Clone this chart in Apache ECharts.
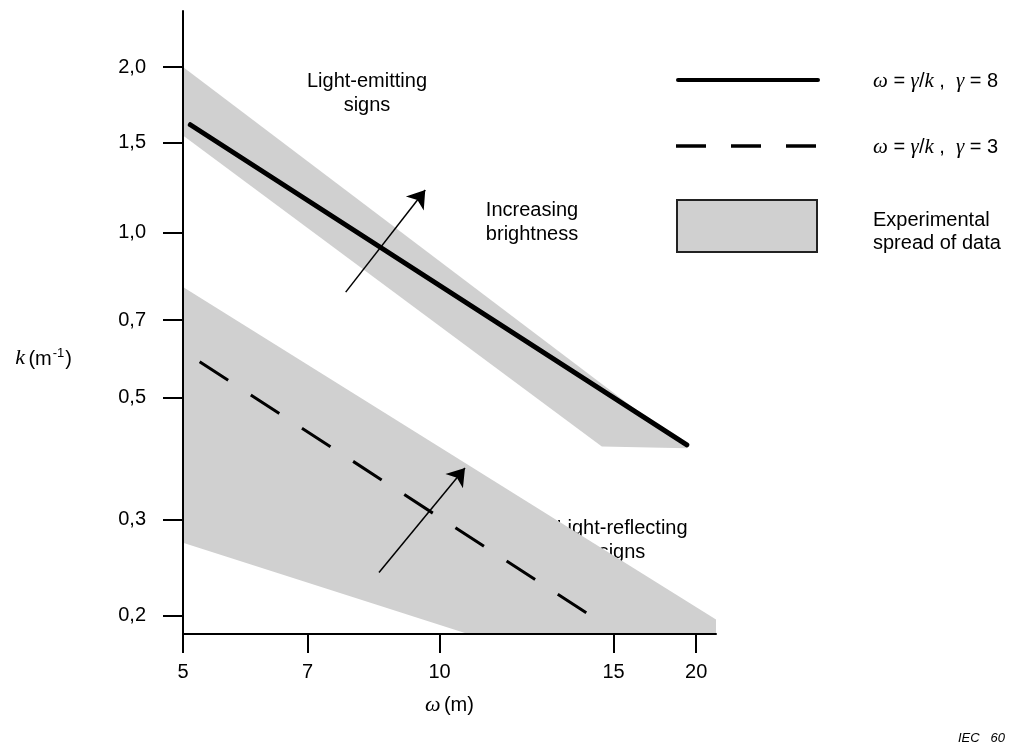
<!DOCTYPE html>
<html><head><meta charset="utf-8">
<script src="https://cdn.jsdelivr.net/npm/echarts@6/dist/echarts.min.js"></script>
<style>html,body{margin:0;padding:0;background:#fff}#c{width:1011px;height:742px}</style>
</head><body><div id="c"></div>
<script>
// ---- data (log-log chart: omega in m, k in m^-1) ----
const xTickLabels = ['5', '7', '10', '15', '20'];
const xTickAt = [5, 7, 10, 16, 20];            // where the reference draws the ticks
const yTickLabels = ['0,2', '0,3', '0,5', '0,7', '1,0', '1,5', '2,0'];
const yTickAt = [0.2, 0.3, 0.5, 0.692, 1.0, 1.456, 2.0];
const xRange = [5, 21.1];
const yRange = [0.1854, 2.53];
const solidLine = [[5.1, 1.57], [19.5, 0.41]];          // omega = gamma/k, gamma = 8
const dashedLine = [[5.23, 0.581], [15.6, 0.193]];      // omega = gamma/k, gamma = 3
const upperBand = [[5, 2.0], [19.5, 0.404], [15.5, 0.407], [5, 1.5]];
const lowerBand = [[5, 0.795], [21.1, 0.197], [21.1, 0.1854], [10.8, 0.1854], [5, 0.272]];
const arrows = [[[7.76, 0.778], [9.62, 1.194]], [[8.49, 0.240], [10.71, 0.372]]];

const L = v => Math.log10(v);
const P = pts => pts.map(p => [L(p[0]), L(p[1])]);
const SANS = "'Liberation Sans', Arial, sans-serif";
const SERIF = "'Liberation Serif', 'Times New Roman', serif";
const lookup = (vals, labels) => v => {
  for (let i = 0; i < vals.length; i++) if (Math.abs(L(vals[i]) - v) < 1e-6) return labels[i];
  return '';
};

const chart = echarts.init(document.getElementById('c'), null, {renderer: 'canvas'});

function bandSeries(band) {
  return {
    type: 'custom', z: 1, silent: true, clip: false,
    data: [[L(10), L(0.5)]],
    renderItem: (params, api) => ({
      type: 'polygon',
      shape: {points: P(band).map(p => api.coord(p))},
      style: {fill: '#d0d0d0', stroke: null}
    })
  };
}
const FS = 20;
const txt = (x, y, text) => ({type: 'text', x, y, style: {text, font: FS + 'px ' + SANS, fill: '#000',
  align: 'center', verticalAlign: 'middle', lineHeight: 24}});
const formula = (y, g) => ({type: 'text', x: 873, y, style: {
  text: '{g|ω} = {g|γ}/{g|k} ,  {g|γ} = ' + g, font: FS + 'px ' + SANS, fill: '#000', verticalAlign: 'middle',
  rich: {g: {fontFamily: SERIF, fontStyle: 'italic', fontSize: 21, fill: '#000'}}}});

const option = {
  backgroundColor: '#fff',
  animation: false,
  grid: {left: 183, right: 295, top: 11, bottom: 108, containLabel: false},
  xAxis: {
    type: 'value', min: L(xRange[0]), max: L(xRange[1]), z: 10,
    axisLine: {show: true, onZero: false, lineStyle: {color: '#000', width: 2}},
    axisTick: {show: true, customValues: xTickAt.map(L), length: 19, lineStyle: {color: '#000', width: 2}},
    axisLabel: {customValues: xTickAt.map(L), formatter: lookup(xTickAt, xTickLabels),
      fontSize: FS, color: '#000', fontFamily: SANS, margin: 28},
    splitLine: {show: false},
    name: '{g|ω} {t|(m)}', nameLocation: 'middle', nameGap: 60,
    nameTextStyle: {rich: {
      g: {fontFamily: SERIF, fontStyle: 'italic', fontSize: 22, color: '#000'},
      t: {fontFamily: SANS, fontSize: FS, color: '#000'}
    }}
  },
  yAxis: {
    type: 'value', min: L(yRange[0]), max: L(yRange[1]), z: 10,
    axisLine: {show: true, onZero: false, lineStyle: {color: '#000', width: 2}},
    axisTick: {show: true, customValues: yTickAt.map(L), length: 20, lineStyle: {color: '#000', width: 2}},
    axisLabel: {customValues: yTickAt.map(L), formatter: lookup(yTickAt, yTickLabels),
      fontSize: FS, color: '#000', fontFamily: SANS, margin: 37},
    splitLine: {show: false},
    name: '{k|k} {t|(m}{s|-1}{t|)}', nameLocation: 'middle', nameRotate: 0, nameGap: 111,
    nameTextStyle: {padding: [71, 0, 0, 0], rich: {
      k: {fontFamily: SERIF, fontStyle: 'italic', fontSize: 22, color: '#000', verticalAlign: 'bottom'},
      t: {fontFamily: SANS, fontSize: FS, color: '#000', verticalAlign: 'bottom'},
      s: {fontFamily: SANS, fontSize: 13, color: '#000', verticalAlign: 'top', padding: [0, 1, 10, 1]}
    }}
  },
  series: [
    bandSeries(upperBand),
    bandSeries(lowerBand),
    {type: 'line', z: 3, data: P(solidLine), symbol: 'none', silent: true,
      lineStyle: {color: '#000', width: 5, cap: 'round'}},
    {type: 'line', z: 3, data: P(dashedLine), symbol: 'none', silent: true,
      lineStyle: {color: '#000', width: 3, type: [34, 27], cap: 'butt'}},
    {type: 'lines', coordinateSystem: 'cartesian2d', z: 4, silent: true,
      data: arrows.map(a => ({coords: P(a)})),
      symbol: ['none', 'arrow'], symbolSize: 17,
      lineStyle: {color: '#000', width: 1.5, opacity: 1, curveness: 0}}
  ],
  graphic: [
    txt(367, 93, 'Light-emitting\nsigns'),
    txt(532, 222, 'Increasing\nbrightness'),
    txt(305, 482, 'Increasing\nreflectance'),
    txt(622, 540, 'Light-reflecting\nsigns'),
    // legend
    {type: 'line', shape: {x1: 678, y1: 80, x2: 818, y2: 80}, style: {stroke: '#000', lineWidth: 4, lineCap: 'round'}},
    {type: 'line', shape: {x1: 676, y1: 146, x2: 818, y2: 146}, style: {stroke: '#000', lineWidth: 3.3, lineDash: [30, 25]}},
    {type: 'rect', shape: {x: 677, y: 200, width: 140, height: 52}, style: {fill: '#d0d0d0', stroke: '#222', lineWidth: 2}},
    formula(81, '8'),
    formula(147, '3'),
    {type: 'text', x: 873, y: 232, style: {text: 'Experimental\nspread of data', font: FS + 'px ' + SANS, fill: '#000',
      verticalAlign: 'middle', lineHeight: 23}},
    {type: 'text', x: 958, y: 738, style: {text: 'IEC   60', font: 'italic 13px ' + SANS, fill: '#000', verticalAlign: 'middle'}}
  ]
};
chart.setOption(option);
</script>
</body></html>
